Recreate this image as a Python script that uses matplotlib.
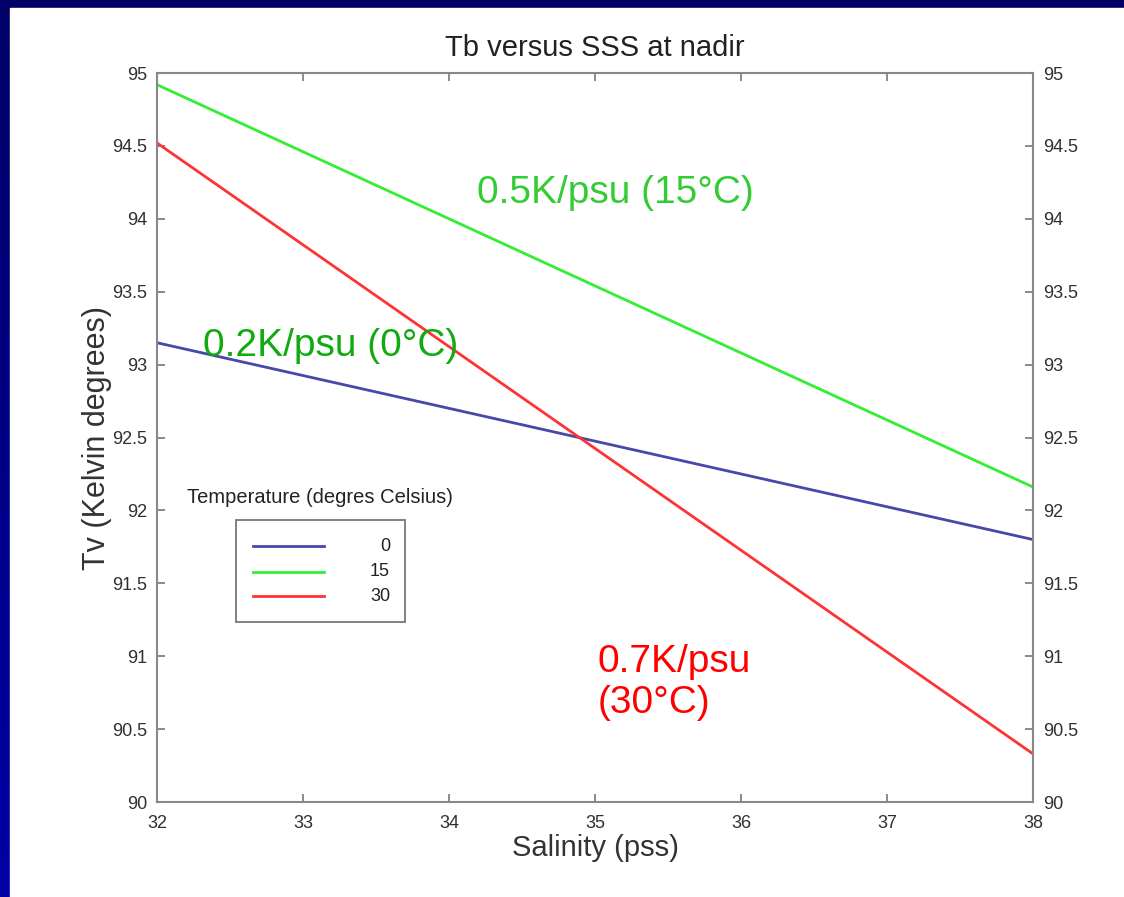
import matplotlib.pyplot as plt
import numpy as np
from matplotlib.patches import Rectangle
from matplotlib.lines import Line2D

plt.rcParams['font.family'] = ['Liberation Sans', 'DejaVu Sans']

# Brillo Tv frente a salinidad, tres temperaturas
salinidad = [32, 38]
tb_0 = [93.15, 91.80]
tb_15 = [94.92, 92.16]
tb_30 = [94.52, 90.33]
temperaturas = ["0", "15", "30"]
colores = ["#4848a8", "#33ee33", "#ff3333"]

fig = plt.figure(figsize=(11.24, 8.97), dpi=100)

# fondo azul tipo diapositiva
fondo = fig.add_axes([0, 0, 1, 1], zorder=-2)
grad = np.linspace(0, 1, 256).reshape(-1, 1)
fondo.imshow(np.dstack([np.zeros_like(grad), np.zeros_like(grad),
                        0.40 + 0.25 * grad]), aspect='auto', extent=[0, 1, 0, 1],
             origin='upper')
fondo.add_patch(Rectangle((10 / 1124, 0), 1, 1 - 8 / 897, color='white'))
fondo.set_xlim(0, 1)
fondo.set_ylim(0, 1)
fondo.axis('off')

ax = fig.add_axes([0.1397, 0.1059, 0.7794, 0.8127])
for y, c in zip([tb_0, tb_15, tb_30], colores):
    ax.plot(salinidad, y, color=c, lw=2)

ax.set_xlim(32, 38)
ax.set_ylim(90, 95)
ax.set_xticks(range(32, 39))
ax.set_yticks(np.arange(90, 95.01, 0.5))
ax.set_yticklabels([f"{v:g}" for v in np.arange(90, 95.01, 0.5)])
ax.tick_params(direction='in', top=True, right=True, labelright=True,
               length=6, width=1.2, color='#777777', labelsize=13,
               labelcolor='#303030', pad=7)
ax.tick_params(axis='x', pad=9)
for s in ax.spines.values():
    s.set_color('#888888')
    s.set_linewidth(1.5)

ax.set_title("Tb versus SSS at nadir", fontsize=21, color='#222222', pad=12)
ax.set_xlabel("Salinity (pss)", fontsize=21, color='#333333', labelpad=2)
ax.set_ylabel("Tv (Kelvin degrees)", fontsize=22, color='#333333', labelpad=0)

# leyenda dibujada a mano
ax.text(0.186, 0.418, "Temperature (degres Celsius)", transform=ax.transAxes,
        ha='center', va='center', fontsize=14.5, color='#222222')
ax.add_patch(Rectangle((0.090, 0.247), 0.193, 0.140, transform=ax.transAxes,
                       fill=False, edgecolor='#777777', lw=1.3))
for yy, c, t in zip([0.351, 0.316, 0.282], colores, temperaturas):
    ax.add_line(Line2D([0.110, 0.191], [yy, yy], transform=ax.transAxes,
                       color=c, lw=2))
    ax.text(0.266, yy, t, transform=ax.transAxes, ha='right', va='center',
            fontsize=13, color='#222222')

# pendientes
ax.text(34.19, 94.18, "0.5K/psu (15°C)", color='#33cc33', fontsize=28,
        ha='left', va='center')
ax.text(32.315, 93.13, "0.2K/psu (0°C)", color='#11aa11', fontsize=28,
        ha='left', va='center')
ax.text(35.02, 90.82, "0.7K/psu\n(30°C)", color='#ff0000', fontsize=28,
        ha='left', va='center', linespacing=1.2)

fig.savefig("out.png", dpi=100)
